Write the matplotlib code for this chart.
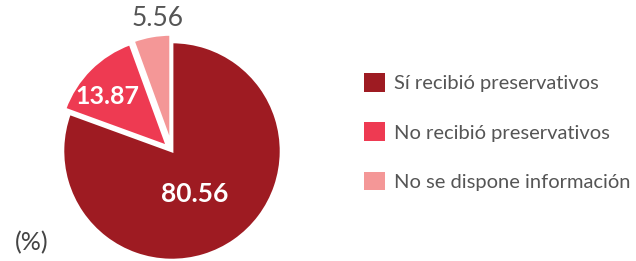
import matplotlib.pyplot as plt
from matplotlib.patches import Patch

# data
labels = ['Sí recibió preservativos', 'No recibió preservativos', 'No se dispone información']
values = [80.56, 13.87, 5.56]
value_text = ['80.56', '13.87', '5.56']
colors = ['#9E1B22', '#EE3A52', '#F49797']

plt.rcParams['font.family'] = ['Lato', 'DejaVu Sans']

fig = plt.figure(figsize=(6.36, 2.61), dpi=100)
W, H = 636, 261
cx, cy, half = 172, 110, 120
ax = fig.add_axes([(cx - half) / W, (cy - half) / H, 2 * half / W, 2 * half / H])

wedges, _ = ax.pie(values, colors=colors, startangle=90, counterclock=False,
                   explode=[0, 0.06, 0.07], radius=1,
                   wedgeprops=dict(edgecolor='white', linewidth=2))
ax.set_xlim(-1.1, 1.1)
ax.set_ylim(-1.1, 1.1)
ax.set_aspect('equal')
ax.axis('off')

# value labels
ax.text(0.21, -0.39, value_text[0], ha='center', va='center', color='white',
        fontsize=19, fontweight='bold')
ax.text(-0.59, 0.50, value_text[1], ha='center', va='center', color='white',
        fontsize=18, fontweight='bold')
ax.text(-0.13, 1.21, value_text[2], ha='center', va='center', color='#555555',
        fontsize=19, clip_on=False)

handles = [Patch(facecolor=c, edgecolor='none') for c in colors]
fig.legend(handles, labels, loc='center left', bbox_to_anchor=(346 / W, 1 - 132 / H),
           frameon=False, fontsize=14.5, labelcolor='#555555', handlelength=1.05,
           handleheight=1.05, handletextpad=0.45, labelspacing=1.5)

fig.text(15 / W, 1 - 243 / H, '(%)', ha='left', va='center', fontsize=18, color='#444444')

fig.savefig('out.png', dpi=100)
